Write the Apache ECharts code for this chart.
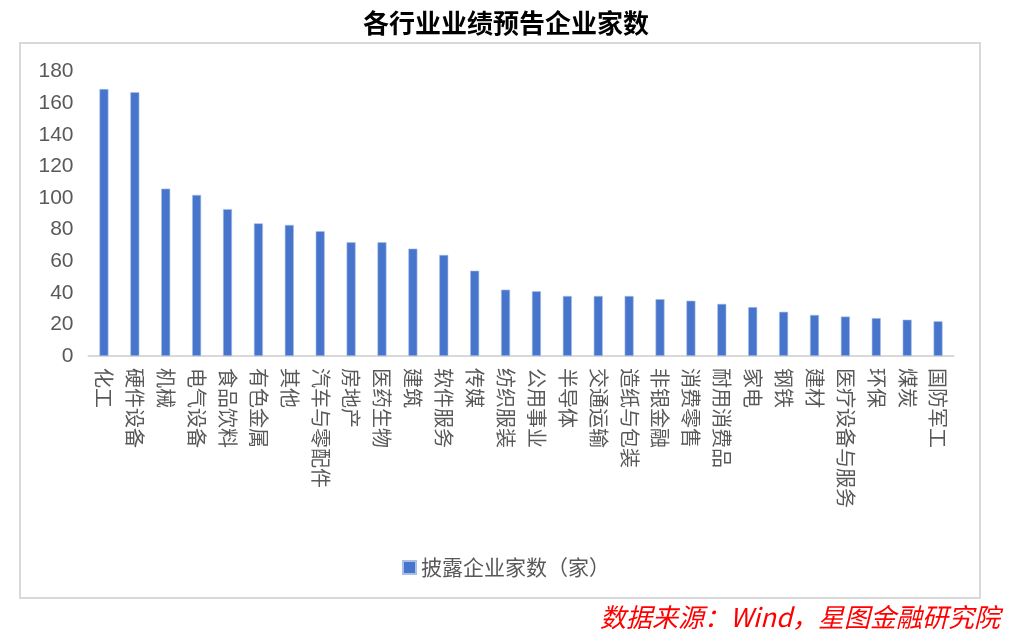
<!DOCTYPE html>
<html>
<head>
<meta charset="utf-8">
<script src="https://cdn.jsdelivr.net/npm/echarts@6/dist/echarts.min.js"></script>
<style>html,body{margin:0;padding:0;background:#fff;}#c{width:1012px;height:636px;}</style>
</head>
<body>
<div id="c"></div>
<script>
var categories = ['化工','硬件设备','机械','电气设备','食品饮料','有色金属','其他','汽车与零配件','房地产','医药生物','建筑','软件服务','传媒','纺织服装','公用事业','半导体','交通运输','造纸与包装','非银金融','消费零售','耐用消费品','家电','钢铁','建材','医疗设备与服务','环保','煤炭','国防军工'];
var counts = [169,167,106,102,93,84,83,79,72,72,68,64,54,42,41,38,38,38,36,35,33,31,28,26,25,24,23,22];
var seriesName = '披露企业家数（家）';
var titleText = '各行业业绩预告企业家数';
var sourceText = '数据来源：Wind，星图金融研究院';

var chart = echarts.init(document.getElementById('c'));
var font = '"Noto Sans CJK SC", "Noto Sans", sans-serif';
chart.setOption({
  animation: false,
  textStyle: { fontFamily: font },
  title: {
    text: titleText, left: 'center', top: 5,
    textStyle: { fontSize: 26, fontWeight: 'bold', color: '#000', fontFamily: font }
  },
  graphic: [
    { type: 'rect', shape: { x: 20, y: 43, width: 960, height: 555 }, style: { fill: 'none', stroke: '#d9d9d9', lineWidth: 2 }, z: -1 },
    { type: 'text', right: 12, top: 604, style: { text: sourceText, fill: '#ff0000', font: 'italic 26px ' + font } }
  ],
  legend: {
    data: [seriesName], top: 552, left: 'center', itemWidth: 13, itemHeight: 13, icon: 'rect', itemGap: 6,
    textStyle: { fontSize: 21, color: '#595959', fontFamily: font }
  },
  grid: { left: 88.5, right: 58.5, top: 71.7, bottom: 280, containLabel: false },
  xAxis: {
    type: 'category', data: categories,
    axisLine: { lineStyle: { color: '#d9d9d9', width: 2 } },
    axisTick: { show: false },
    axisLabel: { rotate: -90, interval: 0, fontSize: 20, color: '#595959', margin: 12, fontFamily: font }
  },
  yAxis: {
    type: 'value', min: 0, max: 180, interval: 20,
    axisLine: { show: false }, axisTick: { show: false }, splitLine: { show: false },
    axisLabel: { fontSize: 21, color: '#595959', margin: 15, fontFamily: '"Liberation Sans", Arial, sans-serif' }
  },
  series: [{
    name: seriesName, type: 'bar', data: counts, barWidth: 9,
    itemStyle: { color: '#4775cc', borderColor: '#a9bfe8', borderWidth: 0.6 }
  }]
});
</script>
</body>
</html>
